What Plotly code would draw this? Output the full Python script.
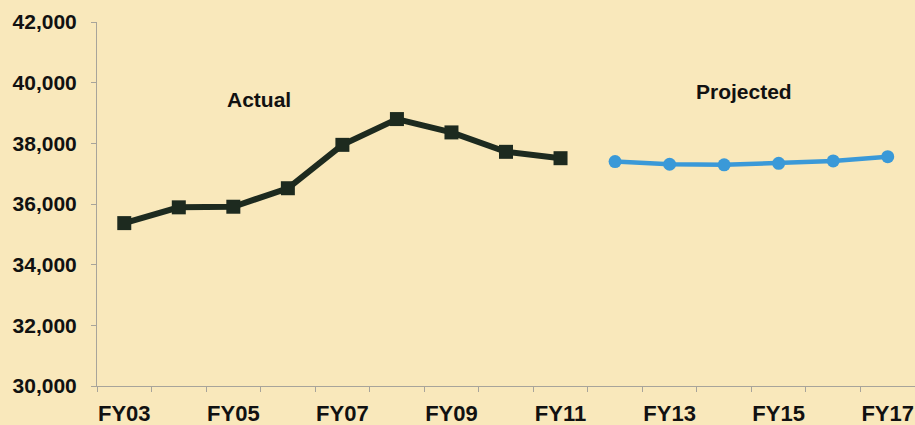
import plotly.graph_objects as go

# Fiscal years on the axis
years = ["FY03", "FY04", "FY05", "FY06", "FY07", "FY08", "FY09", "FY10",
         "FY11", "FY12", "FY13", "FY14", "FY15", "FY16", "FY17"]

# Actual counts FY03-FY11
actual_years = years[:9]
actual_values = [35370, 35890, 35910, 36520, 37950, 38800, 38360, 37720, 37510]

# Projected counts FY12-FY17
projected_years = years[9:]
projected_values = [37400, 37310, 37290, 37340, 37420, 37560]

# Labels shown under the axis (every other year)
label_years = years[::2]

pos = {y: i for i, y in enumerate(years)}
BG = "#F9E8BB"
FONT = "Arial, Liberation Sans, sans-serif"

fig = go.Figure()

fig.add_trace(go.Scatter(
    x=[pos[y] for y in actual_years], y=actual_values,
    mode="lines+markers", name="Actual",
    line=dict(color="#1d2a1f", width=6),
    marker=dict(symbol="square", size=14, color="#1d2a1f"),
))

fig.add_trace(go.Scatter(
    x=[pos[y] for y in projected_years], y=projected_values,
    mode="lines+markers", name="Projected",
    line=dict(color="#3a99d8", width=4.5),
    marker=dict(symbol="circle", size=13, color="#3a99d8"),
))

fig.add_annotation(x=2.47, y=39430, text="Actual", showarrow=False,
                   font=dict(family=FONT, size=21, color="#111", weight="bold"))
fig.add_annotation(x=11.36, y=39725, text="Projected", showarrow=False,
                   font=dict(family=FONT, size=21, color="#111", weight="bold"))

fig.update_layout(
    width=915, height=425,
    margin=dict(l=97, r=0, t=22, b=39),
    paper_bgcolor=BG, plot_bgcolor=BG,
    showlegend=False,
)

fig.update_xaxes(
    range=[-0.5, 14.5],
    automargin=False,
    tickmode="array",
    tickvals=[pos[y] for y in label_years],
    ticktext=label_years,
    ticks="",
    ticklabelstandoff=8,
    tickfont=dict(family=FONT, size=22, color="#111", weight="bold"),
    showline=True, linecolor="#a8a49a", linewidth=1,
    showgrid=False, zeroline=False,
    minor=dict(tickvals=[i - 0.5 for i in range(len(years) + 1)],
               ticks="outside", ticklen=5, tickcolor="#a8a49a", showgrid=False),
)

fig.update_yaxes(
    range=[30000, 42000],
    automargin=False,
    tickmode="linear", tick0=30000, dtick=2000,
    tickformat=",d",
    ticks="outside", ticklen=5, tickcolor="#a8a49a",
    ticklabelstandoff=10,
    tickfont=dict(family=FONT, size=21, color="#111", weight="bold"),
    showline=True, linecolor="#a8a49a", linewidth=1,
    showgrid=False, zeroline=False,
)

fig.write_html("out.html")
